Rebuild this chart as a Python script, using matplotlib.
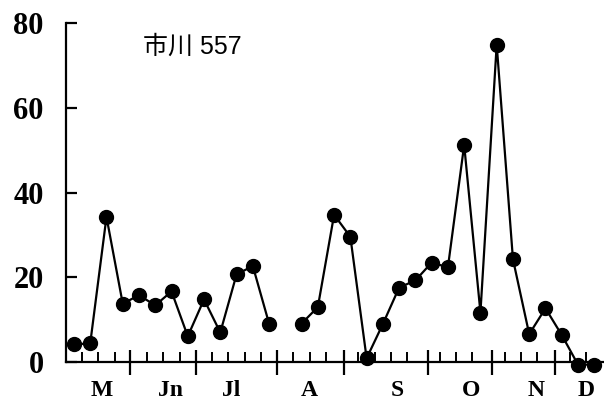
import numpy as np
import matplotlib
matplotlib.use("Agg")
import matplotlib.pyplot as plt

# weekly counts; None marks the missing week
counts = [4.2, 4.4, 34.3, 13.8, 15.8, 13.4, 16.7, 6.1, 14.8, 7.0, 20.7, 22.7, 9.1,
          None,
          9.1, 13.0, 34.8, 29.6, 0.9, 9.0, 17.6, 19.3, 23.5, 22.4, 51.3, 11.7,
          75.0, 24.3, 6.6, 12.7, 6.4, -0.6, -0.6]
months = ["M", "Jn", "Jl", "A", "S", "O", "N", "D"]
month_pos = [1.7, 5.95, 9.7, 14.5, 19.9, 24.4, 28.4, 31.5]
month_edges = [3.45, 7.5, 12.5, 16.6, 21.75, 25.7, 29.6]
y_ticks = [0, 20, 40, 60, 80]
station = "市川 557"

serif = ["Liberation Serif", "Noto Sans CJK JP"]
sans = ["Liberation Sans", "Noto Sans CJK JP"]

fig = plt.figure(figsize=(6.04, 4.05), dpi=100)
ax = fig.add_axes([0.109, 0.106, 0.891, 0.836])

weeks = np.arange(len(counts))
y = np.array([np.nan if c is None else c for c in counts], dtype=float)
ax.plot(weeks, y, color="black", lw=1.6, marker="o", ms=10,
        mfc="black", mec="black", clip_on=False, zorder=3)

ax.set_xlim(-0.5, 32.6)
ax.set_ylim(0, 80)

for side in ("top", "right"):
    ax.spines[side].set_visible(False)
for side in ("left", "bottom"):
    ax.spines[side].set_linewidth(1.6)

ax.set_yticks(y_ticks)
ax.set_yticklabels([str(v) for v in y_ticks], family=serif,
                   fontsize=22, fontweight="bold")
ax.tick_params(axis="y", direction="in", length=8, width=1.6, pad=16)

minor = [k + 0.5 for k in range(-1, 32)]
minor = [m for m in minor if all(abs(m - e) > 0.4 for e in month_edges) and m > 0]
ax.set_xticks(month_edges)
ax.set_xticklabels([])
ax.set_xticks(minor, minor=True)
ax.tick_params(axis="x", which="major", direction="inout", length=18, width=1.6)
ax.tick_params(axis="x", which="minor", direction="in", length=7, width=1.4)

for name, pos in zip(months, month_pos):
    ax.text(pos, -0.083, name, transform=ax.get_xaxis_transform(),
            ha="center", va="center", family=serif, fontsize=17,
            fontweight="bold")

ax.text(0.143, 0.93, station, transform=ax.transAxes, ha="left", va="center",
        family=sans, fontsize=18)

fig.savefig("out.png", dpi=100)
